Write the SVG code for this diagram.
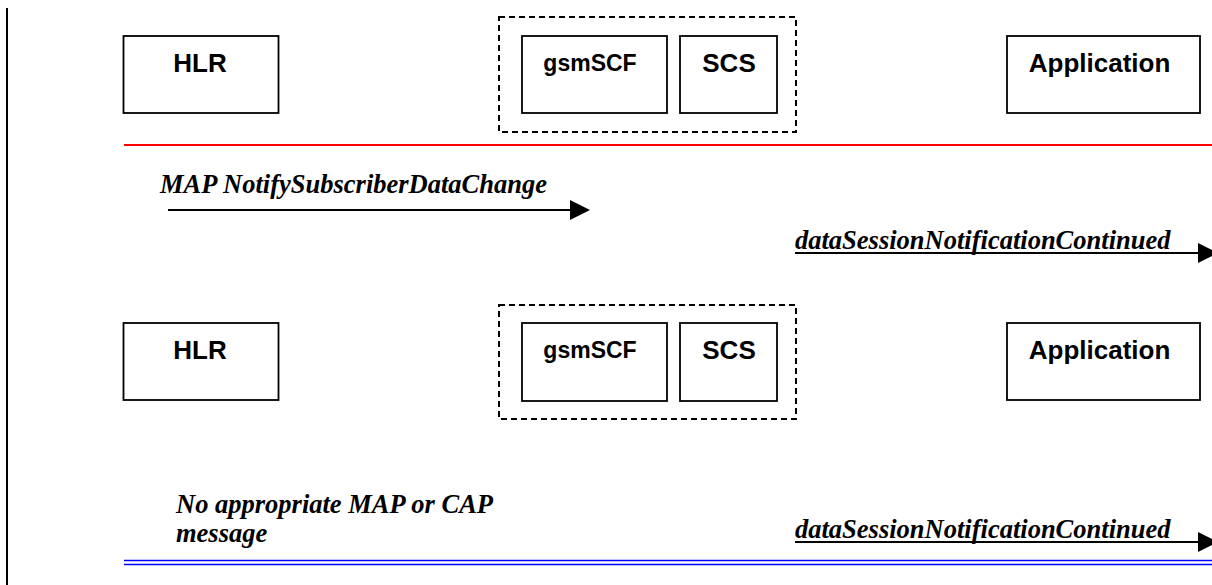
<svg xmlns="http://www.w3.org/2000/svg" width="1212" height="585" viewBox="0 0 1212 585">
  <style>
    .box { fill: #fff; stroke: #000; stroke-width: 1.8; }
    .grp { fill: none; stroke: #000; stroke-width: 2; stroke-dasharray: 6 4; }
    .lbl { font-family: "Liberation Sans", Arial, sans-serif; font-weight: bold; font-size: 26px; fill: #000; text-anchor: middle; }
    .msg { font-family: "Liberation Serif", "Times New Roman", serif; font-weight: bold; font-style: italic; font-size: 26.5px; fill: #000; }
    .arr { stroke: #000; stroke-width: 2; fill: none; }
    .head { fill: #000; }
  </style>

  <g id="frame">
    <line x1="7" y1="8" x2="7" y2="585" stroke="#000" stroke-width="2"/>
  </g>

  <g id="row1">
    <g id="hlr1">
      <rect class="box" x="123.5" y="36" width="155" height="77"/>
      <text class="lbl" x="200" y="72">HLR</text>
    </g>
    <g id="group1">
      <rect class="grp" x="499" y="17" width="297" height="115"/>
    </g>
    <g id="gsmscf1">
      <rect class="box" x="522" y="36" width="145" height="77"/>
      <text class="lbl" x="590" y="71" style="font-size:23px">gsmSCF</text>
    </g>
    <g id="scs1">
      <rect class="box" x="680" y="36" width="97" height="77"/>
      <text class="lbl" x="729" y="72">SCS</text>
    </g>
    <g id="app1">
      <rect class="box" x="1007" y="36" width="193" height="77"/>
      <text class="lbl" x="1099.5" y="72">Application</text>
    </g>
  </g>

  <g id="row2">
    <g id="hlr2">
      <rect class="box" x="123.5" y="323" width="155" height="77"/>
      <text class="lbl" x="200" y="359">HLR</text>
    </g>
    <g id="group2">
      <rect class="grp" x="499" y="305" width="297" height="114"/>
    </g>
    <g id="gsmscf2">
      <rect class="box" x="522" y="323" width="145" height="78"/>
      <text class="lbl" x="590" y="358" style="font-size:23px">gsmSCF</text>
    </g>
    <g id="scs2">
      <rect class="box" x="680" y="323" width="97" height="78"/>
      <text class="lbl" x="729" y="359">SCS</text>
    </g>
    <g id="app2">
      <rect class="box" x="1007" y="323" width="193" height="77"/>
      <text class="lbl" x="1099.5" y="359">Application</text>
    </g>
  </g>

  <g id="connectors">
    <line x1="124" y1="145" x2="1212" y2="145" stroke="#ff0000" stroke-width="2"/>

    <line class="arr" x1="168" y1="210" x2="572" y2="210"/>
    <polygon class="head" points="570,200 590,210 570,220"/>
    <text class="msg" x="160" y="193">MAP NotifySubscriberDataChange</text>

    <line class="arr" x1="795" y1="253" x2="1200" y2="253"/>
    <polygon class="head" points="1198,243 1218,253 1198,263"/>
    <text class="msg" x="795" y="249">dataSessionNotificationContinued</text>

    <text class="msg" x="176" y="513">No appropriate MAP or CAP</text>
    <text class="msg" x="176" y="542">message</text>

    <line class="arr" x1="795" y1="542" x2="1200" y2="542"/>
    <polygon class="head" points="1198,532 1218,542 1198,552"/>
    <text class="msg" x="795" y="538">dataSessionNotificationContinued</text>

    <line x1="124" y1="560.5" x2="1212" y2="560.5" stroke="#0000ff" stroke-width="1.6"/>
    <line x1="124" y1="564.5" x2="1212" y2="564.5" stroke="#0000ff" stroke-width="1.6"/>
  </g>
</svg>
